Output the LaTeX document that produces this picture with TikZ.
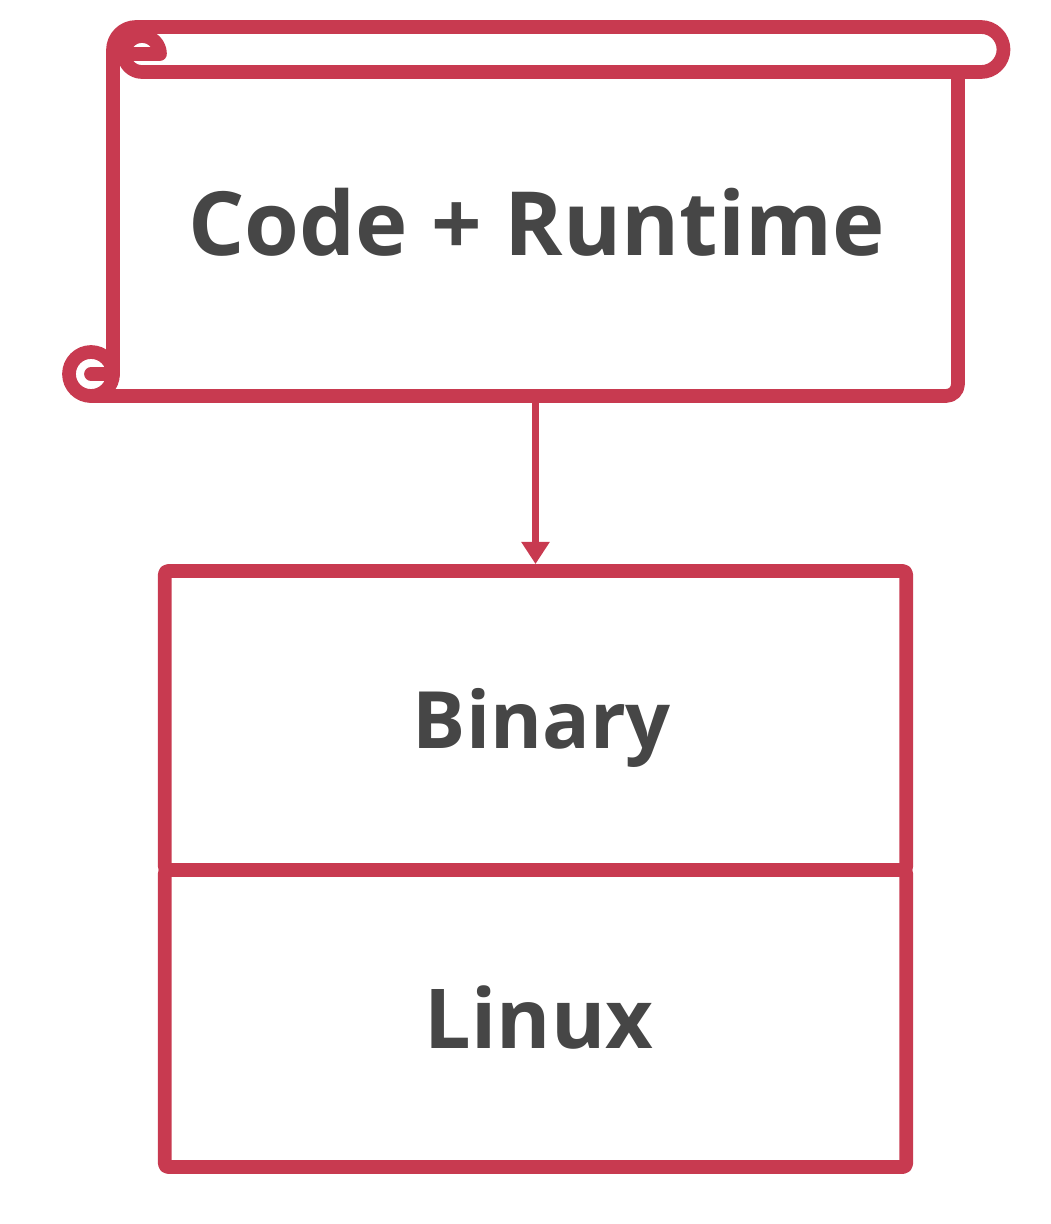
\documentclass[tikz,border=0pt]{standalone}
\usepackage{fontspec}
\setmainfont{Open Sans}
\usepackage{xcolor}
\usetikzlibrary{positioning, arrows.meta}

\definecolor{scrollred}{RGB}{200,58,80}
\definecolor{labelgray}{RGB}{70,70,70}

\begin{document}
\begin{tikzpicture}[x=0.01cm, y=-0.01cm,
    outline/.style={draw=scrollred, line width=3.9pt, line join=round, line cap=round},
    layerbox/.style={outline, rectangle, rounded corners=1pt, minimum width=7.41cm, inner sep=0pt},
    bigtext/.style={text=labelgray, anchor=base, inner sep=0pt, font=\fontsize{#1}{32}\selectfont\bfseries},
    link/.style={draw=scrollred, line width=2pt, -{Triangle[length=6.3pt, width=7.7pt]}}]
        \useasboundingbox (0,0) rectangle (1050,1224);

        % Scroll
        \node[minimum width=8.45cm, minimum height=3.24cm, inner sep=0pt] (scroll) at (535.5,234) {};
        \node[bigtext=25.2] (code) at (536.5,255) {Code + Runtime};
        \draw[outline] (113,374) -- (113,50) arc[start angle=180, end angle=270, radius=23]
            -- (981,27) arc[start angle=270, end angle=450, radius=22.5]
            -- (142,72) arc[start angle=90, end angle=360, radius=18] -- (124,54);
        \draw[outline] (91,396) -- (946,396) arc[start angle=90, end angle=0, radius=12] -- (958,72);
        \draw[outline] (91,374) circle[radius=22];
        \draw[outline] (113,374) -- (91,374);

        % Layers
        \node[layerbox, minimum height=2.99cm] (binary) at (535.5,720.5) {};
        \node[layerbox, minimum height=2.97cm] (linux) at (535.5,1018.5) {};
        \node[bigtext=22.5] at (542,748) {Binary};
        \node[bigtext=23.5] at (539,1048) {Linux};

        \draw[link] (scroll.south) -- (binary.north);
      \end{tikzpicture}
\end{document}
